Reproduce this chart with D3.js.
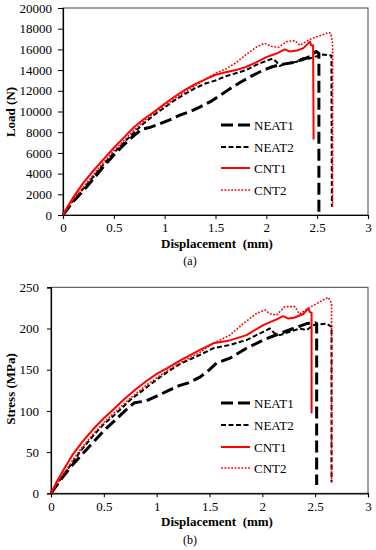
<!DOCTYPE html>
<html><head><meta charset="utf-8">
<script src="https://cdn.jsdelivr.net/npm/d3@7"></script>
<style>
html,body{margin:0;padding:0;background:#fff;}
svg text{font-family:"Liberation Serif","Times New Roman","DejaVu Serif",serif;}
</style></head>
<body><svg id="c" width="376" height="550"></svg>
<script>
// ---------- data (displacement mm, value) ----------
const seriesNames = ["NEAT1","NEAT2","CNT1","CNT2"];
const xTicks = [0,0.5,1,1.5,2,2.5,3];
const loadTicks = [0,2000,4000,6000,8000,10000,12000,14000,16000,18000,20000];
const stressTicks = [0,50,100,150,200,250];

// (a) Load (N)
const loadNEAT1 = [[0,0],[0.1,1300],[0.2,2350],[0.3,3500],[0.4,4700],[0.5,5800],[0.6,6800],[0.7,7700],[0.78,8300],[0.85,8450],[0.95,8800],[1.05,9200],[1.15,9650],[1.25,10000],[1.35,10450],[1.45,10950],[1.55,11600],[1.65,12250],[1.75,12850],[1.85,13400],[1.95,13900],[2.05,14300],[2.15,14550],[2.25,14700],[2.35,15000],[2.43,15300],[2.49,15800],[2.517,15600],[2.517,300]];
const loadNEAT2 = [[0,0],[0.1,1400],[0.2,2550],[0.3,3700],[0.4,4900],[0.5,6000],[0.6,7000],[0.7,8000],[0.8,8900],[0.9,9700],[1.0,10400],[1.1,11100],[1.2,11700],[1.3,12250],[1.4,12700],[1.5,13000],[1.6,13400],[1.7,13700],[1.8,14000],[1.9,14500],[2.0,14900],[2.06,15100],[2.1,14800],[2.13,14400],[2.2,14650],[2.3,14800],[2.36,15150],[2.42,15100],[2.5,15350],[2.56,15500],[2.64,15400],[2.645,800]];
const loadCNT1 = [[0,0],[0.05,900],[0.1,1700],[0.15,2400],[0.2,3100],[0.3,4300],[0.4,5400],[0.5,6500],[0.6,7500],[0.7,8500],[0.8,9300],[0.9,10000],[1.0,10750],[1.1,11450],[1.2,12100],[1.3,12650],[1.4,13100],[1.5,13550],[1.6,13800],[1.7,14000],[1.8,14300],[1.9,14750],[2.0,15250],[2.1,15600],[2.18,16000],[2.23,15800],[2.3,15900],[2.36,16100],[2.43,16750],[2.44,16400],[2.46,16400],[2.465,7300]];
const loadCNT2 = [[0,0],[0.1,1500],[0.2,2700],[0.3,3900],[0.4,5100],[0.5,6200],[0.6,7200],[0.7,8200],[0.8,9100],[0.9,9900],[1.0,10550],[1.1,11250],[1.2,11900],[1.3,12500],[1.4,13100],[1.5,13700],[1.6,14100],[1.7,14700],[1.8,15500],[1.9,16200],[1.98,16600],[2.05,16300],[2.12,16200],[2.2,16750],[2.28,16850],[2.33,16400],[2.38,16700],[2.45,17070],[2.53,17330],[2.61,17620],[2.635,17550],[2.652,16500],[2.652,800]];

// (b) Stress (MPa)
const stressNEAT1 = [[0,0],[0.1,18],[0.2,34],[0.3,48],[0.4,62],[0.5,76],[0.6,88],[0.7,100],[0.79,110],[0.9,112],[1.0,118],[1.1,124],[1.22,131],[1.3,134],[1.41,141],[1.5,150],[1.566,158],[1.693,164],[1.85,176],[2.008,186],[2.166,194],[2.293,200],[2.42,206],[2.5,207],[2.514,206],[2.514,10]];
const stressNEAT2 = [[0,0],[0.1,19],[0.2,37],[0.284,52],[0.4,70],[0.5,84],[0.6,95],[0.757,114],[0.9,128],[1.0,138],[1.1,147],[1.22,157],[1.41,168],[1.535,176],[1.693,180],[1.85,186],[2.008,196],[2.07,200],[2.118,194],[2.166,192],[2.26,196],[2.356,200],[2.42,198],[2.48,204],[2.608,206],[2.655,202],[2.655,14]];
const stressCNT1 = [[0,0],[0.05,13],[0.126,30],[0.2,46],[0.3,63],[0.4,78],[0.5,91],[0.6,103],[0.7,115],[0.8,126],[0.9,136],[1.0,145],[1.1,152],[1.22,161],[1.41,174],[1.535,182],[1.677,185],[1.85,192],[2.008,204],[2.135,211],[2.197,215],[2.245,212],[2.3,213],[2.387,217.6],[2.434,224.5],[2.45,220],[2.466,219],[2.466,97]];
const stressCNT2 = [[0,0],[0.1,20],[0.2,39],[0.284,54],[0.4,72],[0.5,86],[0.6,98],[0.757,116],[0.9,131],[1.0,140],[1.1,149],[1.22,158],[1.41,171],[1.535,182],[1.693,192],[1.82,206],[1.946,218.4],[2.025,222.5],[2.07,218],[2.135,216.4],[2.213,226.5],[2.308,226.5],[2.35,217.6],[2.45,225.7],[2.545,232.5],[2.623,237.9],[2.655,230.6],[2.655,12]];

// ---------- styles ----------
const styles = {
  NEAT1:{stroke:"#000", width:3, dash:"12,5"},
  NEAT2:{stroke:"#000", width:2, dash:"5,2.5"},
  CNT1:{stroke:"#ff0000", width:2, dash:null},
  CNT2:{stroke:"#ff0000", width:1.6, dash:"1.8,1.6"}
};
const FONT = "Liberation Serif, Times New Roman, DejaVu Serif, serif";

const svg = d3.select("#c");

function drawChart(cfg){
  const g = svg.append("g").attr("font-family",FONT);
  const x = d3.scaleLinear().domain([0,3]).range([cfg.x0, cfg.x1]);
  const y = d3.scaleLinear().domain([0, cfg.yMax]).range([cfg.y0, cfg.y1]);

  g.append("rect").attr("x",cfg.x0).attr("y",cfg.y1)
    .attr("width",cfg.x1-cfg.x0).attr("height",cfg.y0-cfg.y1)
    .attr("fill","none").attr("stroke","#444").attr("stroke-width",1);

  const xa = g.append("g").attr("transform",`translate(0,${cfg.y0})`)
    .call(d3.axisBottom(x).tickValues(xTicks).tickFormat(d3.format("")).tickSizeOuter(0).tickSize(4).tickPadding(4));
  const ya = g.append("g").attr("transform",`translate(${cfg.x0},0)`)
    .call(d3.axisLeft(y).tickValues(cfg.yTicks).tickFormat(d=>d).tickSizeOuter(0).tickSize(cfg.tickLen).tickPadding(cfg.pad));
  [xa,ya].forEach(a=>{
    a.attr("font-family",FONT);
    a.select(".domain").attr("stroke","#000").attr("stroke-width",1.2);
    a.selectAll(".tick line").attr("stroke","#000");
    a.selectAll("text").attr("font-size",13).attr("fill","#000");
  });

  const line = d3.line().x(d=>x(d[0])).y(d=>y(d[1]));
  cfg.series.forEach((data,i)=>{
    const s = styles[seriesNames[i]];
    g.append("path").datum(data).attr("d",line)
      .attr("fill","none").attr("stroke",s.stroke).attr("stroke-width",s.width)
      .attr("stroke-dasharray",s.dash).attr("stroke-linejoin","round");
  });

  g.append("text").attr("x",217).attr("y",cfg.xTitleY).attr("text-anchor","middle")
    .attr("font-size",13).attr("font-weight","bold").style("white-space","pre")
    .text("Displacement  (mm)");
  g.append("text").attr("transform",`translate(${cfg.yTitleX},${cfg.yTitleCY}) rotate(-90)`)
    .attr("text-anchor","middle").attr("font-size",13).attr("font-weight","bold")
    .text(cfg.yTitle);
  g.append("text").attr("x",190).attr("y",cfg.capY).attr("text-anchor","middle")
    .attr("font-size",12).text(cfg.caption);

  seriesNames.forEach((n,i)=>{
    const s = styles[n];
    const ly = cfg.legY[i];
    g.append("line").attr("x1",221).attr("x2",250).attr("y1",ly).attr("y2",ly)
      .attr("stroke",s.stroke).attr("stroke-width",s.width).attr("stroke-dasharray",s.dash);
    g.append("text").attr("x",254).attr("y",ly+4.5).attr("font-size",13).text(n);
  });
}

drawChart({x0:63,x1:368,y0:215,y1:8,yMax:20000,yTicks:loadTicks,tickLen:5,pad:6,
  series:[loadNEAT1,loadNEAT2,loadCNT1,loadCNT2],
  xTitleY:247.5,yTitleX:14.5,yTitleCY:112,yTitle:"Load (N)",capY:265,caption:"(a)",
  legY:[125,147,168,190]});

drawChart({x0:51,x1:368,y0:493.3,y1:287.3,yMax:250,yTicks:stressTicks,tickLen:4,pad:8,
  series:[stressNEAT1,stressNEAT2,stressCNT1,stressCNT2],
  xTitleY:525.5,yTitleX:14.5,yTitleCY:389,yTitle:"Stress (MPa)",capY:544,caption:"(b)",
  legY:[403,425,447,468]});
</script>
</body></html>
